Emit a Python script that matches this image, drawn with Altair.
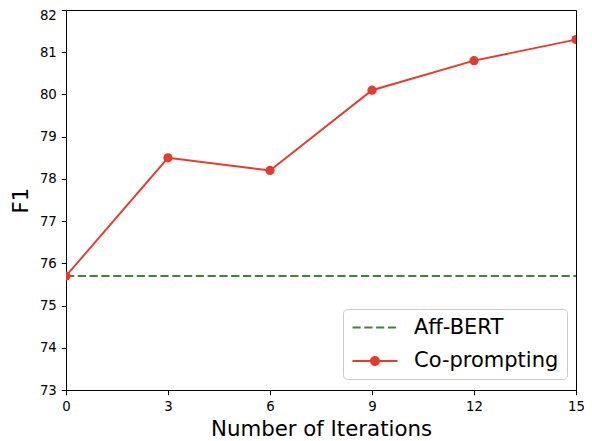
import altair as alt
import pandas as pd

# ---- data ----
iterations = [0, 3, 6, 9, 12, 15]
co_prompting = [75.7, 78.5, 78.2, 80.1, 80.8, 81.3]
aff_bert = [75.7, 75.7, 75.7, 75.7, 75.7, 75.7]
series_names = ["Aff-BERT", "Co-prompting"]
series_colors = ["#3a8a2c", "#e8392b"]
x_ticks = [0, 3, 6, 9, 12, 15]
y_ticks = [73, 74, 75, 76, 77, 78, 79, 80, 81, 82]

GREEN, RED = series_colors
FONT = "DejaVu Sans"

df_co = pd.DataFrame({"iter": iterations, "f1": co_prompting})
df_aff = pd.DataFrame({"iter": iterations, "f1": aff_bert})
df_leg = pd.DataFrame({"series": series_names})

x = alt.X("iter:Q", scale=alt.Scale(domain=[0, 15], nice=False, zero=False),
          axis=alt.Axis(values=x_ticks, title="Number of Iterations", titlePadding=5.5))
y = alt.Y("f1:Q", scale=alt.Scale(domain=[73, 82], nice=False, zero=False),
          axis=alt.Axis(values=y_ticks, title="F1", titlePadding=8,
                        labelOffset=alt.condition("datum.value == 82", alt.value(5), alt.value(0))))

aff = alt.Chart(df_aff).mark_line(color=GREEN, strokeWidth=1.9, strokeDash=[8.2, 3.6], clip=True).encode(x=x, y=y)
co_line = alt.Chart(df_co).mark_line(color=RED, strokeWidth=1.9, clip=True).encode(x=x, y=y)
co_pts = alt.Chart(df_co).mark_point(filled=True, color=RED, size=85, opacity=1, clip=True).encode(x=x, y=y)

# legend symbols (custom paths, unit = sqrt(symbolSize)/2 = 8px)
dash_path = ("M-1.125,-0.125H-0.1V0.125H-1.125Z "
             "M0.35,-0.125H1.375V0.125H0.35Z "
             "M1.825,-0.125H2.85V0.125H1.825Z "
             "M3.3,-0.125H4.325V0.125H3.3Z")
dot_path = ("M-1.125,-0.125H4.5V0.125H-1.125Z "
            "M2.3125,0A0.625,0.625 0 1 1 1.0625,0A0.625,0.625 0 1 1 2.3125,0Z")

leg = alt.Legend(orient="none", legendX=277, legendY=299, title=None,
                 labelFontSize=21, labelFont=FONT, labelColor="black",
                 symbolSize=256, symbolOpacity=1, symbolStrokeWidth=0,
                 labelOffset=42, padding=8, rowPadding=11.5,
                 strokeColor="#cccccc", fillColor="white", cornerRadius=4,
                 labelLimit=400)

legend_layer = alt.Chart(df_leg).mark_point(filled=True, opacity=0, size=1).encode(
    color=alt.Color("series:N", scale=alt.Scale(domain=series_names, range=series_colors), legend=leg),
    shape=alt.Shape("series:N", scale=alt.Scale(domain=series_names, range=[dash_path, dot_path]), legend=leg),
)

chart = alt.layer(aff, co_line, co_pts, legend_layer).properties(
    width=510, height=380,
    padding={"left": 58, "top": 2, "right": 8, "bottom": 51},
    autosize=alt.AutoSizeParams(type="none"),
    background="white",
).configure_view(stroke="black", strokeWidth=1).configure_axis(
    grid=False, domainColor="black", domainWidth=1, tickColor="black", tickSize=4.7,
    labelFont=FONT, labelFontSize=13.3, labelColor="black", labelPadding=5, labelFlush=False,
    titleFont=FONT, titleFontSize=21.3, titleFontWeight="normal", titleColor="black",
)

chart.save("out.html", embed_options={"renderer": "svg", "actions": False})
